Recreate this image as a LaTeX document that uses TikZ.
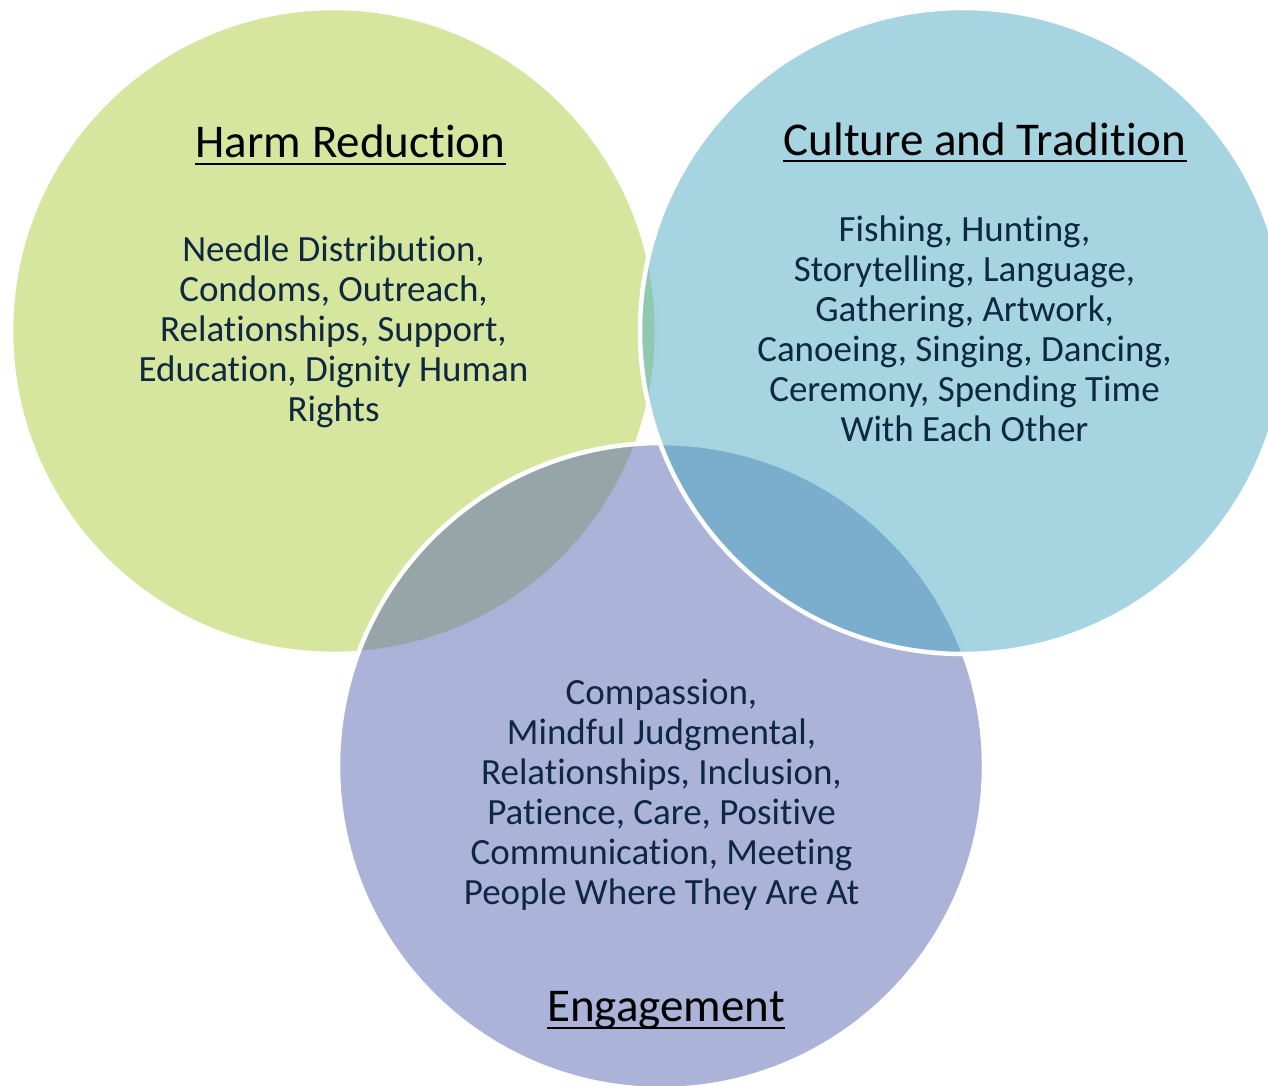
\documentclass[tikz,border=0pt]{standalone}
\usepackage{fontspec}
\setmainfont[Ligatures=NoCommon]{Carlito}
\definecolor{cgreen}{RGB}{173,205,61}
\definecolor{cpurple}{RGB}{87,103,179}
\definecolor{cblue}{RGB}{77,171,195}
\definecolor{navy}{RGB}{14,40,65}
\begin{document}
\begin{tikzpicture}[x=1pt,y=-1pt,
  venn/.style={circle, draw=white, line width=4.5pt, fill opacity=0.5, draw opacity=1, minimum size=646pt, inner sep=0pt},
  title/.style={inner sep=0pt, font=\fontsize{47}{56}\selectfont, text=black, anchor=base},
  body/.style={inner sep=0pt, align=center, font=\fontsize{37}{40}\selectfont, text=navy, anchor=base},
  uline/.style={line width=2.6pt, black}]
\useasboundingbox (0,0) rectangle (1268,1085);
\clip (0,0) rectangle (1268,1085);
\node[venn, fill=cgreen] (hr) at (334,331) {};
\node[venn, fill=cpurple] (en) at (661,766) {};
\node[venn, fill=cblue] (ct) at (963,331) {};

\node[title] (hrt) at (350.5,157) {Harm Reduction};
\draw[uline] ([yshift=-7pt]hrt.base west) -- ([yshift=-7pt]hrt.base east);
\node[title] (ctt) at (985,155) {Culture and Tradition};
\draw[uline] ([yshift=-6pt]ctt.base west) -- ([yshift=-6pt]ctt.base east);
\node[title] (ent) at (666,1021) {Engagement};
\draw[uline] ([yshift=-7pt]ent.base west) -- ([yshift=-7pt]ent.base east);

\node[body] (hrb) at (333.5,421) {Needle Distribution,\\Condoms, Outreach,\\Relationships, Support,\\Education, Dignity Human\\Rights};
\node[body] (ctb) at (964.5,441) {Fishing, Hunting,\\Storytelling, Language,\\Gathering, Artwork,\\Canoeing, Singing, Dancing,\\Ceremony, Spending Time\\With Each Other};
\node[body] (enb) at (661.5,904) {Compassion,\\Mindful Judgmental,\\Relationships, Inclusion,\\Patience, Care, Positive\\Communication, Meeting\\People Where They Are At};
\end{tikzpicture}
\end{document}
